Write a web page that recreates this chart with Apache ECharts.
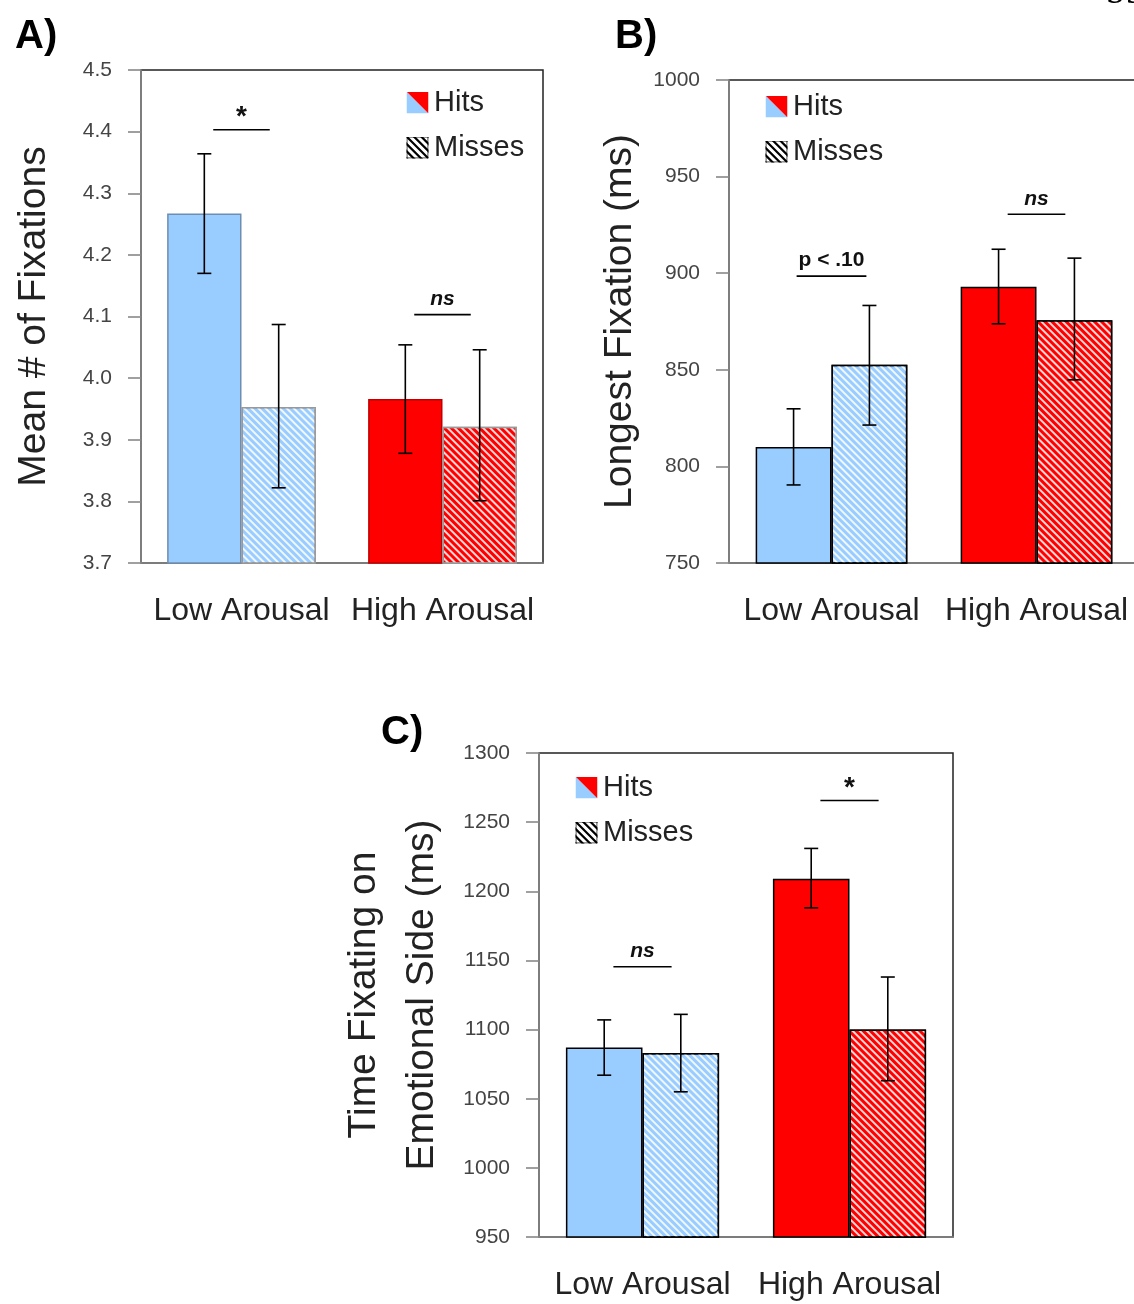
<!DOCTYPE html>
<html>
<head>
<meta charset="utf-8">
<script src="https://cdn.jsdelivr.net/npm/echarts@6/dist/echarts.min.js"></script>
<style>
  html, body { margin: 0; padding: 0; background: #fff; }
  #main { width: 1134px; height: 1304px; }
</style>
</head>
<body>
<div id="main"></div>
<script>
// categories shared by all three panels
var categories = ['Low Arousal', 'High Arousal'];

// A) Mean # of fixations
var fixHits = [4.267, 3.966];
var fixMisses = [3.953, 3.921];
var fixHitsErr = [[4.170, 4.364], [3.878, 4.054]];
var fixMissesErr = [[3.822, 4.087], [3.801, 4.046]];
var fixSig = [[0, 4.403, '*'], [1, 4.103, 'ns']];

// B) Longest fixation (ms)
var longHits = [810, 893];
var longMisses = [852.6, 875.7];
var longHitsErr = [[790.4, 829.8], [873.8, 912.4]];
var longMissesErr = [[821.4, 883.3], [844.8, 907.8]];
var longSig = [[0, 898.5, 'p < .10'], [1, 930.5, 'ns']];

// C) Time fixating on emotional side (ms)
var timeHits = [1087, 1209];
var timeMisses = [1083, 1100];
var timeHitsErr = [[1067, 1107], [1188, 1231]];
var timeMissesErr = [[1055, 1111], [1063, 1138]];
var timeSig = [[0, 1145.4, 'ns'], [1, 1265.6, '*']];

var FONT = "'Liberation Sans', Arial, sans-serif";
var BLUE = '#99ccff', RED = '#ff0000';
var GAP = 0.26;

function svgIcon(svg) {
  return 'image://data:image/svg+xml;utf8,' + encodeURIComponent(svg);
}
var hitsIcon = svgIcon("<svg xmlns='http://www.w3.org/2000/svg' width='24' height='24'>" +
  "<polygon points='0,0 0,24 24,24' fill='#99ccff'/><polygon points='0,0 24,0 24,24' fill='#ff0000'/></svg>");
var missIcon = svgIcon("<svg xmlns='http://www.w3.org/2000/svg' width='24' height='24'>" +
  "<rect x='0.5' y='0.5' width='23' height='23' fill='#fff' stroke='#000'/>" +
  "<path d='M-4,4 L20,28 M0,0 L24,24 M4,-4 L28,20 M-4,12 L12,28 M12,-4 L28,12 M-4,20 L4,28 M20,-4 L28,4' stroke='#000' stroke-width='2.4'/></svg>");

// white diagonal stripes on the "misses" bars
var stripes = {
  symbol: 'rect', symbolSize: 1,
  dashArrayX: [1, 0], dashArrayY: [2, 2.5],
  rotation: Math.PI / 4,
  color: 'rgba(255,255,255,0.85)'
};

function errRender(params, api) {
  var cat = api.value(0), lo = api.value(1), hi = api.value(2), slot = api.value(3);
  var band = api.size([1, 0])[0];
  var barW = band * (1 - GAP) / 2;
  var p0 = api.coord([cat, lo]), p1 = api.coord([cat, hi]);
  var x = p0[0] + (slot === 0 ? -barW / 2 : barW / 2);
  var cap = 7;
  var st = { stroke: '#000', lineWidth: 1.6 };
  return {
    type: 'group',
    children: [
      { type: 'line', shape: { x1: x, y1: p0[1], x2: x, y2: p1[1] }, style: st },
      { type: 'line', shape: { x1: x - cap, y1: p0[1], x2: x + cap, y2: p0[1] }, style: st },
      { type: 'line', shape: { x1: x - cap, y1: p1[1], x2: x + cap, y2: p1[1] }, style: st }
    ]
  };
}

function sigRenderer(sig) {
  return function (params, api) {
    var item = sig[params.dataIndex];
    var band = api.size([1, 0])[0];
    var barW = band * (1 - GAP) / 2;
    var p = api.coord([item[0], item[1]]);
    var half = barW * (item[2].length > 3 ? 0.46 : 0.38);
    var isStar = item[2] === '*';
    return {
      type: 'group',
      children: [
        { type: 'line', shape: { x1: p[0] - half, y1: p[1], x2: p[0] + half, y2: p[1] },
          style: { stroke: '#000', lineWidth: 1.6 } },
        { type: 'text', x: p[0], y: p[1] - (isStar ? -2 : 5),
          style: { text: item[2], textAlign: 'center', textVerticalAlign: 'bottom',
            font: (item[2] === 'ns' ? 'italic ' : '') + 'bold ' + (isStar ? 28 : 21) + 'px ' + FONT,
            fill: '#111' } }
      ]
    };
  };
}

function errData(err, slot) {
  return err.map(function (e, i) { return [i, e[0], e[1], slot]; });
}

var grids = [
  { left: 141, top: 70, width: 402, height: 493 },
  { left: 729, top: 80, width: 410, height: 483 },
  { left: 539, top: 753, width: 414, height: 484 }
];
var yCfg = [
  { min: 3.7, max: 4.5, interval: 0.1, name: 'Mean # of Fixations', gap: 78, fmt: function (v) { return v.toFixed(1); } },
  { min: 750, max: 1000, interval: 50, name: 'Longest Fixation (ms)', gap: 80, fmt: function (v) { return String(v); } },
  { min: 950, max: 1300, interval: 50, name: 'Time Fixating on\nEmotional Side (ms)', gap: 88, fmt: function (v) { return String(v); } }
];
var panels = [
  { hits: fixHits, misses: fixMisses, hErr: fixHitsErr, mErr: fixMissesErr, sig: fixSig,
    hBorder: ['#6f8db0', '#c00000'], mBorder: '#999' },
  { hits: longHits, misses: longMisses, hErr: longHitsErr, mErr: longMissesErr, sig: longSig,
    hBorder: ['#000', '#000'], mBorder: '#000' },
  { hits: timeHits, misses: timeMisses, hErr: timeHitsErr, mErr: timeMissesErr, sig: timeSig,
    hBorder: ['#000', '#000'], mBorder: '#000' }
];

var xAxes = [], yAxes = [], series = [];
grids.forEach(function (g, k) {
  g.show = true;
  g.borderColor = '#222';
  g.borderWidth = 1.5;
  g.outerBoundsMode = 'none';
  g.containLabel = false;
  xAxes.push({
    type: 'category', gridIndex: k, data: categories,
    axisLine: { lineStyle: { color: '#888', width: 1.6 } },
    axisTick: { length: 12, lineStyle: { color: '#888', width: 1.6 } },
    axisLabel: { interval: 0, hideOverlap: false, fontSize: 32, color: '#222', margin: 32, fontFamily: FONT }
  });
  var y = yCfg[k];
  yAxes.push({
    type: 'value', gridIndex: k, min: y.min, max: y.max, interval: y.interval,
    name: y.name, nameLocation: 'middle', nameGap: y.gap,
    nameTextStyle: { fontSize: 39, color: '#222', fontFamily: FONT, lineHeight: 58 },
    splitLine: { show: false },
    axisLine: { show: true, lineStyle: { color: '#888', width: 1.6 } },
    axisTick: { show: true, length: 13, lineStyle: { color: '#888', width: 1.6 } },
    axisLabel: { fontSize: 21, color: '#444', margin: 29, fontFamily: FONT, formatter: y.fmt }
  });
  var p = panels[k];
  series.push({
    name: 'Hits', type: 'bar', xAxisIndex: k, yAxisIndex: k,
    barGap: '0%', barCategoryGap: (GAP * 100) + '%',
    data: p.hits.map(function (v, i) {
      return { value: v, itemStyle: { color: i === 0 ? BLUE : RED, borderColor: p.hBorder[i], borderWidth: 1.5 } };
    })
  });
  series.push({
    name: 'Misses', type: 'bar', xAxisIndex: k, yAxisIndex: k,
    barGap: '0%', barCategoryGap: (GAP * 100) + '%',
    data: p.misses.map(function (v, i) {
      return { value: v, itemStyle: { color: i === 0 ? BLUE : RED, borderColor: p.mBorder, borderWidth: 1.5, decal: stripes } };
    })
  });
  series.push({
    type: 'custom', xAxisIndex: k, yAxisIndex: k, z: 5,
    renderItem: errRender, data: errData(p.hErr, 0).concat(errData(p.mErr, 1))
  });
  series.push({
    type: 'custom', xAxisIndex: k, yAxisIndex: k, z: 5,
    renderItem: sigRenderer(p.sig), data: p.sig.map(function (s) { return [s[0], s[1]]; })
  });
});

function legendAt(left, top) {
  return {
    orient: 'vertical', left: left, top: top, selectedMode: false,
    itemWidth: 23, itemHeight: 22, itemGap: 16,
    textStyle: { fontSize: 29, color: '#222', fontFamily: FONT },
    data: [{ name: 'Hits', icon: hitsIcon }, { name: 'Misses', icon: missIcon }]
  };
}

var titleStyle = { fontSize: 40, fontWeight: 'bold', color: '#000', fontFamily: FONT };

var myChart = echarts.init(document.getElementById('main'));
option = {
  animation: false,
  backgroundColor: '#fff',
  title: [
    { text: 'A)', left: 10, top: 12, textStyle: titleStyle },
    { text: 'B)', left: 610, top: 12, textStyle: titleStyle },
    { text: 'C)', left: 376, top: 708, textStyle: titleStyle }
  ],
  legend: [legendAt(401, 83), legendAt(760, 87), legendAt(570, 768)],
  grid: grids,
  xAxis: xAxes,
  yAxis: yAxes,
  series: series,
  graphic: [
    { type: 'text', left: 1106, top: -20, style: { text: '39', font: '30px "DejaVu Serif", serif', fill: '#000' } }
  ]
};
myChart.setOption(option);
</script>
</body>
</html>
